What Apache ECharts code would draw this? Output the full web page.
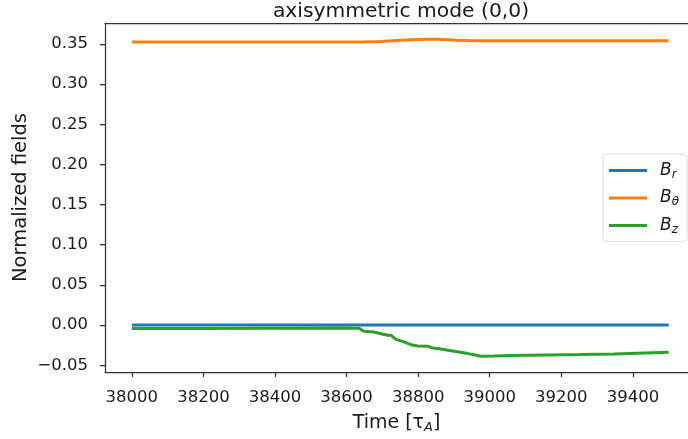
<!DOCTYPE html>
<html>
<head>
<meta charset="utf-8">
<script src="https://cdn.jsdelivr.net/npm/echarts@6/dist/echarts.min.js"></script>
<style>
  html, body { margin: 0; padding: 0; background: #fff; }
  #chart { width: 688px; height: 439px; }
</style>
</head>
<body>
<div id="chart"></div>
<script>
// Sample times (in Alfvén times) and the normalized (0,0) field components
const time = [38000, 38200, 38400, 38584, 38634, 38648, 38676, 38696, 38715, 38724,
              38738, 38760, 38780, 38799, 38827, 38841, 38860, 38883, 38910, 38939,
              38960, 38975, 39012, 39059, 39162, 39250, 39347, 39500];
const bR = [0, 0, 0, 0, 0, 0, 0, 0, 0, 0,
            0, 0, 0, 0, 0, 0, 0, 0, 0, 0,
            0, 0, 0, 0, 0, 0, 0, 0];
const bTheta = [0.3522, 0.3522, 0.3522, 0.3522, 0.3523, 0.3524, 0.3527, 0.3531, 0.3536, 0.3538,
                0.3542, 0.3547, 0.3552, 0.3555, 0.3558, 0.3558, 0.3556, 0.3552, 0.3546, 0.3541,
                0.3539, 0.3538, 0.3538, 0.3538, 0.3538, 0.3538, 0.3538, 0.3538];
const bZ = [-0.0042, -0.0041, -0.0039, -0.0037, -0.0038, -0.0078, -0.0087, -0.0107, -0.0127, -0.0127,
            -0.0177, -0.0210, -0.0244, -0.0260, -0.0264, -0.0285, -0.0295, -0.0313, -0.0333, -0.0355,
            -0.0372, -0.0387, -0.0384, -0.0378, -0.0371, -0.0366, -0.0359, -0.0338];

const xTicks = [38000, 38200, 38400, 38600, 38800, 39000, 39200, 39400];
const yTicks = [-0.05, 0.00, 0.05, 0.10, 0.15, 0.20, 0.25, 0.30, 0.35];

const seriesNames = ['Br', 'Btheta', 'Bz'];
const legendText = { Br: '{b|B}{s|r}', Btheta: '{b|B}{s|θ}', Bz: '{b|B}{s|z}' };
const colors = ['#1f77b4', '#ff7f0e', '#2ca02c'];

const FONT = 'DejaVu Sans';
const INK = '#1a1a1a';
const SPINE = '#333333';

function pairs(vals) { return time.map((t, i) => [t, vals[i]]); }

const chart = echarts.init(document.getElementById('chart'), null, { renderer: 'canvas' });

chart.setOption({
  animation: false,
  color: colors,
  textStyle: { fontFamily: FONT },
  title: {
    text: 'axisymmetric mode (0,0)',
    left: 396, textAlign: 'center', top: -3,
    textStyle: { fontFamily: FONT, fontSize: 20.3, fontWeight: 'normal', color: INK }
  },
  // plot area runs past the right edge of the canvas, so its right frame is never seen
  grid: { left: 105, top: 23, right: 0, height: 350 },
  legend: {
    data: seriesNames,
    orient: 'vertical',
    left: 603, top: 154,
    icon: 'rect', itemWidth: 38, itemHeight: 3, itemGap: 9,
    padding: [8, 8, 6, 6],
    backgroundColor: 'rgba(255,255,255,0.8)',
    borderColor: '#dddddd', borderWidth: 1, borderRadius: 4,
    selectedMode: false,
    formatter: name => legendText[name],
    textStyle: {
      color: INK,
      rich: {
        b: { fontFamily: FONT, fontSize: 17, fontStyle: 'italic', color: INK, lineHeight: 20, padding: [0, 0, 0, 8] },
        s: { fontFamily: FONT, fontSize: 12, fontStyle: 'italic', color: INK, lineHeight: 20, verticalAlign: 'bottom', padding: [6, 0, 0, 0] }
      }
    }
  },
  xAxis: [{
    type: 'value',
    min: 37925, max: 39554,
    name: '{n|Time [τ}{s|A}{n|]}',
    nameLocation: 'middle', nameGap: 40,
    nameTextStyle: {
      rich: {
        n: { fontFamily: FONT, fontSize: 19, color: INK },
        s: { fontFamily: FONT, fontSize: 13, fontStyle: 'italic', color: INK, verticalAlign: 'bottom', padding: [9, 0, 0, 0] }
      }
    },
    axisLine: { show: true, onZero: false, lineStyle: { color: SPINE, width: 1.25 } },
    axisTick: { show: true, length: 5, lineStyle: { color: SPINE, width: 1.25 }, customValues: xTicks },
    axisLabel: { customValues: xTicks, margin: 17, fontSize: 16.5, color: INK, fontFamily: FONT, formatter: v => String(v) },
    splitLine: { show: false }
  }, {
    // top frame line only
    type: 'value', position: 'top',
    min: 37925, max: 39554,
    axisLine: { show: true, onZero: false, lineStyle: { color: SPINE, width: 1.25 } },
    axisTick: { show: false }, axisLabel: { show: false }, splitLine: { show: false }
  }],
  yAxis: {
    type: 'value',
    min: -0.0584, max: 0.3760,
    name: 'Normalized fields',
    nameLocation: 'middle', nameGap: 74, nameRotate: 90, nameMoveOverlap: false,
    nameTextStyle: { fontFamily: FONT, fontSize: 19.5, color: INK },
    axisLine: { show: true, onZero: false, lineStyle: { color: SPINE, width: 1.25 } },
    axisTick: { show: true, length: 5, lineStyle: { color: SPINE, width: 1.25 }, customValues: yTicks },
    axisLabel: {
      customValues: yTicks, margin: 17, fontSize: 16.5, color: INK, fontFamily: FONT,
      formatter: v => (v < 0 ? '\u2212' : '') + Math.abs(v).toFixed(2)
    },
    splitLine: { show: false }
  },
  series: [
    { name: 'Br', type: 'line', data: pairs(bR), symbol: 'none', lineStyle: { width: 3 }, z: 2 },
    { name: 'Btheta', type: 'line', data: pairs(bTheta), symbol: 'none', smooth: 0.3, lineStyle: { width: 3 }, z: 3 },
    { name: 'Bz', type: 'line', data: pairs(bZ), symbol: 'none', lineStyle: { width: 3 }, z: 4 }
  ]
});
</script>
</body>
</html>
